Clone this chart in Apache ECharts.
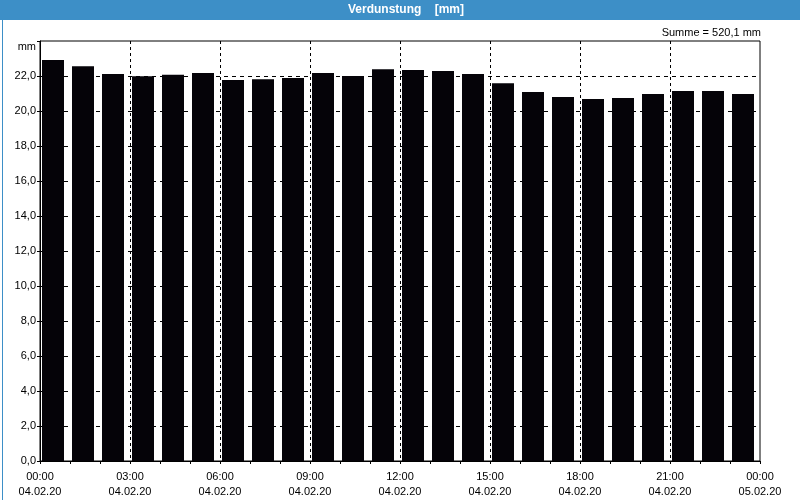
<!DOCTYPE html>
<html>
<head>
<meta charset="utf-8">
<script src="https://cdn.jsdelivr.net/npm/echarts@6/dist/echarts.min.js"></script>
<style>
html,body{margin:0;padding:0;background:#fff;}
#c{width:800px;height:500px;}
</style>
</head>
<body>
<div id="c"></div>
<script>
var hours = ['00','01','02','03','04','05','06','07','08','09','10','11','12','13','14','15','16','17','18','19','20','21','22','23'];
var values = [22.91, 22.56, 22.11, 21.98, 22.07, 22.17, 21.77, 21.82, 21.88, 22.17, 22.0, 22.39,
              22.34, 22.28, 22.11, 21.58, 21.08, 20.80, 20.68, 20.74, 20.97, 21.14, 21.14, 20.97];
var timeLabels = ['00:00','03:00','06:00','09:00','12:00','15:00','18:00','21:00','00:00'];
var dateLabels = ['04.02.20','04.02.20','04.02.20','04.02.20','04.02.20','04.02.20','04.02.20','04.02.20','05.02.20'];
var titleText = 'Verdunstung    [mm]';
var sumText = 'Summe = 520,1 mm';
var unitText = 'mm';

var FONT = 'Liberation Sans';
var chart = echarts.init(document.getElementById('c'), null, {renderer: 'canvas'});
chart.setOption({
  animation: false,
  backgroundColor: '#ffffff',
  textStyle: {fontFamily: FONT},
  grid: {left: 40, right: 40, top: 41, bottom: 39, containLabel: false,
         show: true, borderColor: '#000', borderWidth: 1, backgroundColor: '#fff'},
  graphic: [
    {type: 'rect', left: 0, top: 0, shape: {width: 800, height: 20}, style: {fill: '#3d8fc7'}, silent: true},
    {type: 'rect', left: 0, top: 0, shape: {x: 0.5, y: 0.5, width: 799, height: 499},
     style: {fill: 'none', stroke: '#3d8fc7', lineWidth: 1}, silent: true},
    {type: 'text', x: 406, y: 10, style: {text: titleText, fill: '#ffffff', font: 'bold 12px "Liberation Sans"',
     textAlign: 'center', textVerticalAlign: 'middle'}},
    {type: 'text', x: 761, y: 33, style: {text: sumText, fill: '#000', font: '11px "Liberation Sans"',
     textAlign: 'right', textVerticalAlign: 'middle'}}
  ],
  xAxis: [
    {type: 'category', data: hours, boundaryGap: true,
     axisLine: {show: true, lineStyle: {color: '#000', width: 1}},
     axisTick: {show: true, length: 3, lineStyle: {color: '#000'}},
     axisLabel: {show: false}, splitLine: {show: false}},
    {type: 'value', min: 0, max: 24, interval: 3, position: 'bottom',
     axisLine: {show: false}, axisTick: {show: false},
     splitLine: {show: true, showMinLine: false, showMaxLine: false, lineStyle: {color: '#000', type: [3, 3], width: 1}},
     axisLabel: {show: true, margin: 8, color: '#000', fontSize: 11, fontFamily: FONT, lineHeight: 15,
       formatter: function (v) { var i = Math.round(v / 3); return timeLabels[i] + '\n' + dateLabels[i]; }}}
  ],
  yAxis: {type: 'value', min: 0, max: 24, interval: 2,
    axisLine: {show: true, lineStyle: {color: '#000'}},
    axisTick: {show: true, length: 3, lineStyle: {color: '#000'}},
    splitLine: {show: true, showMinLine: false, showMaxLine: false, lineStyle: {color: '#000', type: [4, 4], width: 1}},
    axisLabel: {color: '#000', fontSize: 11, fontFamily: FONT, margin: 4,
      formatter: function (v) { return v === 24 ? '{u|' + unitText + '}' : v.toFixed(1).replace('.', ','); },
      rich: {u: {color: '#000', fontSize: 11, fontFamily: FONT, padding: [12, 0, 0, 0]}}}},
  series: [
    {type: 'bar', xAxisIndex: 0, data: values, barWidth: 22, barGap: 0,
     itemStyle: {color: '#050308'}, z: 3},
    {type: 'bar', xAxisIndex: 0, data: [], barWidth: 4, barGap: 0}
  ]
});
</script>
</body>
</html>
